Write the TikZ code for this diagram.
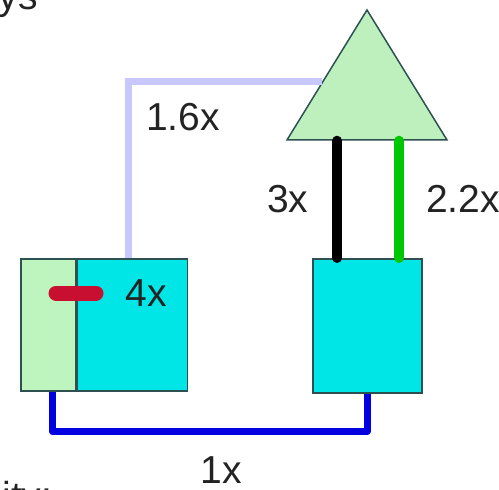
\documentclass[tikz,border=0pt]{standalone}
\usepackage{fontspec}
\setmainfont{Liberation Sans}
\usetikzlibrary{shapes.geometric,positioning,calc}
\definecolor{edgegray}{RGB}{45,80,80}
\definecolor{boxcyan}{RGB}{0,230,230}
\definecolor{boxgreen}{RGB}{190,245,190}
\definecolor{trigreen}{RGB}{190,240,190}
\definecolor{lavender}{RGB}{200,200,255}
\definecolor{wireblue}{RGB}{0,0,225}
\definecolor{wiregreen}{RGB}{0,200,0}
\definecolor{barred}{RGB}{200,15,50}
\definecolor{textgray}{RGB}{35,35,35}

\begin{document}
\begin{tikzpicture}[x=0.5pt, y=-0.5pt,
  box/.style={rectangle, draw=edgegray, line width=0.75pt, inner sep=0pt,
    minimum height=66pt},
  tri/.style={isosceles triangle, isosceles triangle stretches,
    shape border rotate=90, draw=edgegray, line width=0.75pt,
    fill=trigreen, inner sep=0pt, minimum width=80pt, minimum height=65pt},
  wire/.style={line width=3.5pt},
  bar/.style={line width=5pt, line cap=round},
  lbl/.style={font=\fontsize{19.5}{23}\selectfont, text=textgray, inner sep=0pt}
]
  \clip (0,0) rectangle (499,489);
  \node[lbl, anchor=base east] (ys) at (38,9) {ys};
  \node[lbl, anchor=base west] (ity) at (2,509) {ity:};

  \node[box, fill=boxgreen, minimum width=27.5pt, anchor=north west] (lg) at (20,258) {};
  \node[box, fill=boxcyan, minimum width=55pt, right=0pt of lg] (lc) {};
  \node[box, fill=boxcyan, minimum width=54.5pt, minimum height=67pt,
    anchor=north west] (rb) at (312,258) {};
  \node[tri, anchor=apex] (tri) at (367,8) {};

  \coordinate (lv) at ([xshift=-2pt]lc.north);
  \coordinate (lt) at ($(tri.apex)!0.554!(tri.left corner)$);
  \draw[wire, lavender] (lv) |- (lt);
  \node[lbl] (l16) at (183,117) {1.6x};

  \coordinate (tb) at ($(tri.left corner)!0.5!(tri.right corner)$);
  \coordinate (bk) at ([xshift=-15pt]rb.north);
  \coordinate (gn) at ([xshift=16pt]rb.north);
  \draw[bar, black] (bk) -- (bk |- tb) node[midway, left=12pt, lbl]{3x};
  \draw[bar, wiregreen] (gn) -- (gn |- tb) node[midway, right=11pt, lbl]{2.2x};

  \coordinate (r1) at (56,293);
  \coordinate (r2) at (96,293);
  \draw[bar, barred, line width=7.5pt] (r1) -- (r2) node[right=11pt, lbl]{4x};

  \draw[wire, wireblue, line join=round] ([xshift=2pt]lg.south) -- ++(0,40) -| (rb.south);
  \node[lbl] (l1) at (221,470) {1x};
\end{tikzpicture}
\end{document}
